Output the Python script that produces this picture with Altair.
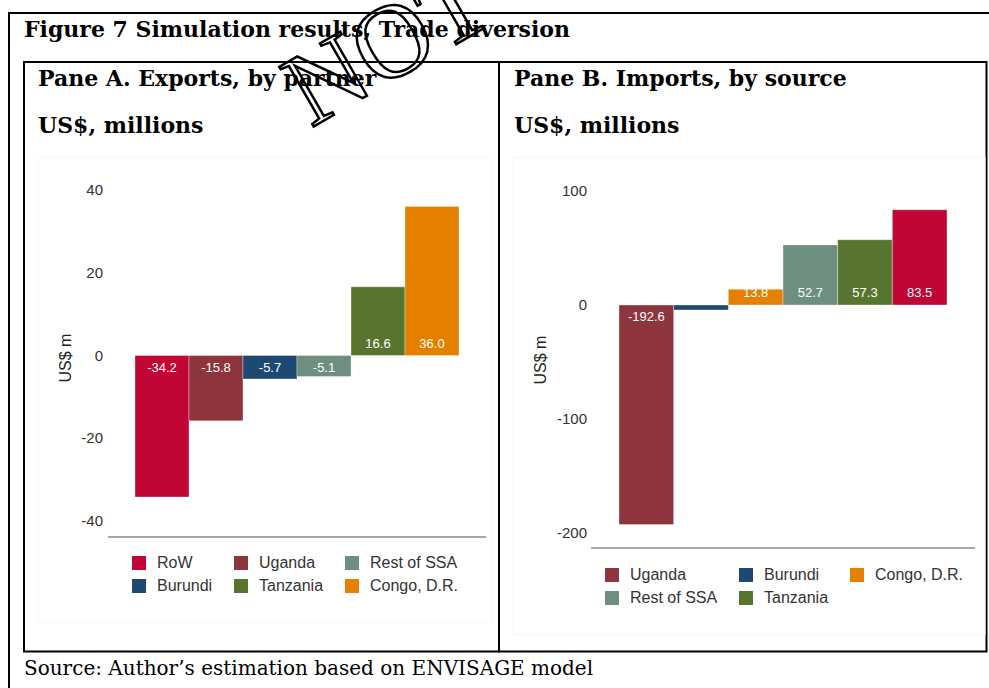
import altair as alt
import pandas as pd

# ---------------- texts ----------------
fig_title = "Figure 7 Simulation results, Trade diversion"
paneA_title = "Pane A. Exports, by partner"
paneB_title = "Pane B. Imports, by source"
unit_label = "US$, millions"
source_note = "Source: Author\u2019s estimation based on ENVISAGE model"
y_title = "US$ m"
watermark = "NOT"

# ---------------- data ----------------
partners_A = ["RoW", "Uganda", "Burundi", "Rest of SSA", "Tanzania", "Congo, D.R."]
exports_A = [-34.2, -15.8, -5.7, -5.1, 16.6, 36.0]
legend_order_A = ["RoW", "Uganda", "Rest of SSA", "Burundi", "Tanzania", "Congo, D.R."]
ticks_A = [40, 20, 0, -20, -40]

sources_B = ["Uganda", "Burundi", "Congo, D.R.", "Rest of SSA", "Tanzania", "RoW"]
imports_B = [-192.6, -4.4, 13.8, 52.7, 57.3, 83.5]
legend_order_B = ["Uganda", "Burundi", "Congo, D.R.", "Rest of SSA", "Tanzania", "RoW"]
legend_values_B = ["Uganda", "Burundi", "Congo, D.R.", "Rest of SSA", "Tanzania"]
ticks_B = [100, 0, -100, -200]

colors = {
    "RoW": "#C10534",
    "Uganda": "#8E343C",
    "Burundi": "#1E4972",
    "Rest of SSA": "#6E8E80",
    "Tanzania": "#587530",
    "Congo, D.R.": "#E47F00",
}

SERIF = "DejaVu Serif"
SANS = "Liberation Sans"
one = pd.DataFrame({"k": [0]})


def rule(x1, y1, x2, y2, color="black", w=2):
    return alt.Chart(one).mark_rule(color=color, strokeWidth=w).encode(
        x=alt.value(x1), y=alt.value(y1), x2=alt.value(x2), y2=alt.value(y2))


def box(x1, y1, x2, y2, stroke="black", w=2, fill="white", fill_opacity=0.0):
    return alt.Chart(one).mark_rect(stroke=stroke, strokeWidth=w, fill=fill,
                                    fillOpacity=fill_opacity).encode(
        x=alt.value(x1), y=alt.value(y1), x2=alt.value(x2), y2=alt.value(y2))


def text(txt, x, y, size, weight="normal", font=SERIF, color="black"):
    return alt.Chart(one).mark_text(text=txt, align="left", baseline="alphabetic",
                                    font=font, fontSize=size, fontWeight=weight,
                                    color=color).encode(x=alt.value(x), y=alt.value(y))


def pane(cats, vals, legend_domain, legend_values, xrange, ydomain, yrange, ticks,
         tick_x, ytitle_x, ytitle_y, axis_x1, axis_x2, axis_y, lx, ly):
    df = pd.DataFrame({"partner": cats, "value": vals,
                       "label": [f"{v:.1f}" for v in vals]})
    xs = alt.Scale(domain=cats, range=xrange, paddingInner=0, paddingOuter=0)
    ys = alt.Scale(domain=ydomain, range=yrange, nice=False)
    cs = alt.Scale(domain=legend_domain, range=[colors[c] for c in legend_domain])
    base = alt.Chart(df)
    bars = base.mark_bar(stroke="white", strokeWidth=0.5, strokeOpacity=0.7).encode(
        x=alt.X("partner:N", scale=xs, axis=None, sort=cats),
        y=alt.Y("value:Q", scale=ys, axis=None),
        y2=alt.datum(0),
        color=alt.Color("partner:N", scale=cs, legend=alt.Legend(
            orient="none", legendX=lx, legendY=ly, title=None, columns=3,
            direction="horizontal",
            symbolType="square", symbolSize=196, symbolStrokeWidth=0,
            labelFont=SANS, labelFontSize=16, labelColor="#333333",
            labelOffset=10, columnPadding=20, rowPadding=7, padding=0,
            values=legend_values)),
    )
    lab_enc = dict(
        x=alt.X("partner:N", scale=xs, axis=None, sort=cats),
        y=alt.Y("zero:Q", scale=ys, axis=None),
        text="label:N",
    )
    neg = base.transform_filter("datum.value < 0").transform_calculate(zero="0").mark_text(
        dy=12, baseline="middle", font=SANS, fontSize=13, color="#FFFFFF").encode(**lab_enc)
    pos = base.transform_filter("datum.value >= 0").transform_calculate(zero="0").mark_text(
        dy=-12, baseline="middle", font=SANS, fontSize=13, color="#FFFFFF").encode(**lab_enc)
    tk = alt.Chart(pd.DataFrame({"tick": ticks, "tlabel": [str(t) for t in ticks]})).mark_text(
        align="right", baseline="middle", font=SANS, fontSize=15, color="#333333").encode(
        x=alt.value(tick_x), y=alt.Y("tick:Q", scale=ys, axis=None), text="tlabel:N")
    yt = alt.Chart(one).mark_text(text=y_title, angle=270, align="center", baseline="middle",
                                  font=SANS, fontSize=16, color="#222222").encode(
        x=alt.value(ytitle_x), y=alt.value(ytitle_y))
    axl = rule(axis_x1, axis_y, axis_x2, axis_y, color="#8a8a8a", w=1.5)
    return alt.layer(bars, neg, pos, tk, yt, axl)


paneA = pane(partners_A, exports_A, legend_order_A, legend_order_A,
             [135, 459], [-40, 40], [521, 190], ticks_A,
             103, 66, 358, 108, 486, 537, 131, 555)
paneB = pane(sources_B, imports_B, legend_order_B, legend_values_B,
             [619, 947], [-200, 100], [533, 191], ticks_B,
             587, 541, 360, 591, 975, 548, 604, 567)

deco = [
    box(9, 13, 1000, 700, w=2),
    box(24, 62, 499, 651.5, w=2),
    box(499, 62, 986.5, 651.5, w=2),
    text(fig_title, 24, 37, 22, "bold"),
    text(paneA_title, 38, 86, 22, "bold"),
    text(unit_label, 38, 133, 22, "bold"),
    text(paneB_title, 514, 86, 22, "bold"),
    text(unit_label, 514, 133, 22, "bold"),
    text(source_note, 24, 675, 20),
    alt.Chart(one).mark_text(text=watermark, angle=330, align="left", baseline="alphabetic",
                             font="Liberation Serif", fontSize=105, fillOpacity=0,
                             stroke="black", strokeWidth=2.5).encode(
        x=alt.value(311), y=alt.value(128)),
    box(38, 157, 492, 622, stroke="#f7f7f7", w=1, fill="white", fill_opacity=1),
    box(513, 157, 985, 635, stroke="#f7f7f7", w=1, fill="white", fill_opacity=1),
]

chart = alt.layer(*deco, paneA, paneB).resolve_scale(
    x="independent", y="independent", color="independent"
).resolve_legend(color="independent").properties(
    width=989, height=688, padding=0,
    autosize=alt.AutoSizeParams(type="none"),
).configure_view(stroke=None)

chart.save("out.html", embed_options={"renderer": "svg", "actions": False})
